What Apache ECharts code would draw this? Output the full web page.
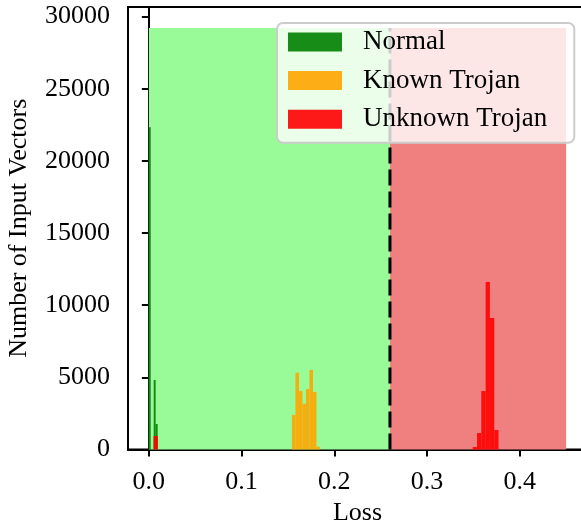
<!DOCTYPE html>
<html>
<head>
<meta charset="utf-8">
<script src="https://cdn.jsdelivr.net/npm/echarts@6/dist/echarts.min.js"></script>
<style>
  html, body { margin: 0; padding: 0; background: #fff; }
  #chart { width: 581px; height: 528px; }
</style>
</head>
<body>
<div id="chart"></div>
<script>
// histogram bins: [left edge, right edge, count]
const normalBins = [
  [0.0000, 0.0020, 22330],
  [0.0052, 0.0073, 4820],
  [0.0073, 0.0095, 1770]
]
const knownBins = [
  [0.1543, 0.1581, 2390],
  [0.1581, 0.1619, 5320],
  [0.1619, 0.1656, 4050],
  [0.1656, 0.1694, 3170],
  [0.1694, 0.1732, 4190],
  [0.1732, 0.1770, 5510],
  [0.1770, 0.1808, 3990],
  [0.1808, 0.1845, 190]
]
const unknownBins = [
  [0.0050, 0.0097, 935],
  [0.3492, 0.3539, 170],
  [0.3539, 0.3585, 1140],
  [0.3585, 0.3632, 4050],
  [0.3632, 0.3678, 11610],
  [0.3678, 0.3725, 9110],
  [0.3725, 0.3771, 1350]
]
// shaded decision regions: [from, to, height]
const normalRegion = [[0.0, 0.26, 29200]]
const trojanRegion = [[0.26, 0.45, 29200]]
const threshold = [[0.26, 0, 29200]]

const xTicks = [0, 0.1, 0.2, 0.3, 0.4]
const yTicks = [0, 5000, 10000, 15000, 20000, 25000, 30000]

const font = "'Liberation Serif', 'DejaVu Serif', serif"

const rectItem = (params, api) => {
  const top = api.coord([api.value(0), api.value(2)])
  const bottom = api.coord([api.value(1), 0])
  return {
    type: 'rect',
    shape: { x: top[0], y: top[1], width: bottom[0] - top[0], height: bottom[1] - top[1] },
    style: { fill: api.visual('color') }
  }
}

const lineItem = (params, api) => {
  const a = api.coord([api.value(0), api.value(1)])
  const b = api.coord([api.value(0), api.value(2)])
  return {
    type: 'line',
    shape: { x1: a[0], y1: a[1], x2: b[0], y2: b[1] },
    style: { stroke: '#000', lineWidth: 3, lineDash: [16, 6] }
  }
}

const histSeries = (name, data, color, z) => ({
  name,
  type: 'custom',
  renderItem: rectItem,
  data,
  encode: { x: [0, 1], y: 2 },
  itemStyle: { color },
  z
})

const chart = echarts.init(document.getElementById('chart'))
chart.setOption({
  animation: false,
  grid: {
    left: 128,
    right: -6,
    top: 7,
    bottom: 78.5,
    outerBoundsMode: 'none',
    containLabel: false,
    show: true,
    borderColor: '#000',
    borderWidth: 2,
    backgroundColor: 'transparent'
  },
  legend: {
    left: 277,
    top: 23,
    z: 10,
    orient: 'vertical',
    icon: 'rect',
    itemWidth: 54,
    itemHeight: 19,
    itemGap: 11.6,
    padding: [5.5, 27, 10, 11],
    backgroundColor: 'rgba(255,255,255,0.8)',
    borderColor: '#cccccc',
    borderWidth: 2,
    borderRadius: 6,
    textStyle: { fontFamily: font, fontSize: 27, color: '#000', padding: [0, 0, 0, 16] },
    data: ['Normal', 'Known Trojan', 'Unknown Trojan']
  },
  xAxis: {
    type: 'value',
    min: -0.0225,
    max: 0.4725,
    name: 'Loss',
    nameLocation: 'middle',
    nameGap: 51,
    nameTextStyle: { fontFamily: font, fontSize: 26, color: '#000' },
    splitLine: { show: false },
    axisLine: { show: true, lineStyle: { color: '#000', width: 2 } },
    axisTick: { show: true, length: 7, lineStyle: { color: '#000', width: 2 }, customValues: xTicks },
    axisLabel: {
      fontFamily: font, fontSize: 26, color: '#000', margin: 20,
      customValues: xTicks,
      formatter: (v) => v.toFixed(1)
    }
  },
  yAxis: {
    type: 'value',
    min: 0,
    max: 30660,
    name: 'Number of Input Vectors',
    nameLocation: 'middle',
    nameGap: 96,
    nameTextStyle: { fontFamily: font, fontSize: 26, color: '#000' },
    splitLine: { show: false },
    axisLine: { show: true, lineStyle: { color: '#000', width: 2 } },
    axisTick: { show: true, length: 7, lineStyle: { color: '#000', width: 2 }, customValues: yTicks },
    axisLabel: {
      fontFamily: font, fontSize: 26, color: '#000', margin: 18,
      customValues: yTicks,
      formatter: (v) => String(v)
    }
  },
  series: [
    { type: 'custom', renderItem: rectItem, data: normalRegion, encode: { x: [0, 1], y: 2 }, itemStyle: { color: '#98fb98' }, silent: true, z: 1 },
    { type: 'custom', renderItem: rectItem, data: trojanRegion, encode: { x: [0, 1], y: 2 }, itemStyle: { color: '#f08080' }, silent: true, z: 1 },
    histSeries('Normal', normalBins, 'rgba(0,128,0,0.9)', 2),
    histSeries('Known Trojan', knownBins, 'rgba(255,165,0,0.9)', 3),
    histSeries('Unknown Trojan', unknownBins, 'rgba(255,0,0,0.9)', 4),
    { type: 'custom', renderItem: lineItem, data: threshold, encode: { x: 0, y: [1, 2] }, silent: true, z: 5 }
  ]
})
</script>
</body>
</html>
